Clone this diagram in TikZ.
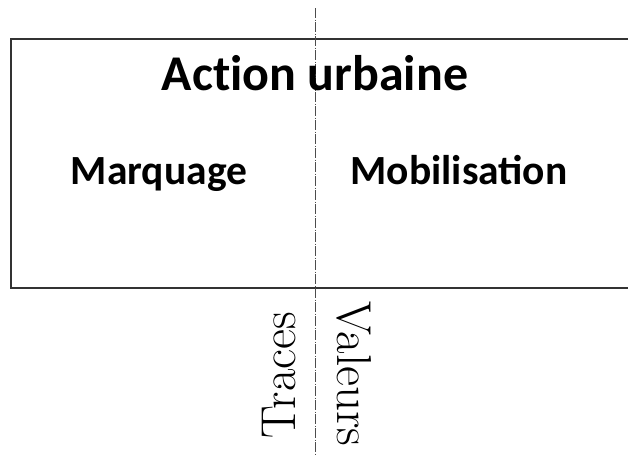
\documentclass[tikz,border=0pt]{standalone}
\usepackage{fontspec}
\newfontfamily\carlitofam{Carlito}
\newfontfamily\carlitonolig[Ligatures=NoCommon]{Carlito}
\begin{document}
\begin{tikzpicture}[x=1pt,y=-1pt,
  boldlabel/.style={font=\carlitonolig\bfseries\fontsize{50}{56}\selectfont, inner sep=0pt, anchor=base},
  sublabel/.style={font=\carlitofam\bfseries\fontsize{41.5}{46}\selectfont, inner sep=0pt, anchor=base},
  vertlabel/.style={font=\fontsize{49}{54}\selectfont, inner sep=0pt, anchor=base},
  axis/.style={draw=black!70, line width=0.8pt, dash pattern=on 10pt off 1.5pt on 1pt off 1.5pt}]
\useasboundingbox (0,0) rectangle (628,455);
\draw[line width=1.2pt, black!80] (640,39) -- (11,39) -- (11,288) -- (640,288);
\coordinate (top) at (315,8);
\coordinate (bot) at (315,460);
\draw[axis] (top) -- (bot);
\node[boldlabel] (action) at (315,90) {Action urbaine};
\node[sublabel] (marq) at (159,184) {Marquage};
\node[sublabel] (mobi) at (459,184) {Mobilisation};
\node[vertlabel, rotate=90] (traces) at (295,375) {Traces};
\node[vertlabel, rotate=-90] (valeurs) at (337,374) {Valeurs};
\end{tikzpicture}
\end{document}
